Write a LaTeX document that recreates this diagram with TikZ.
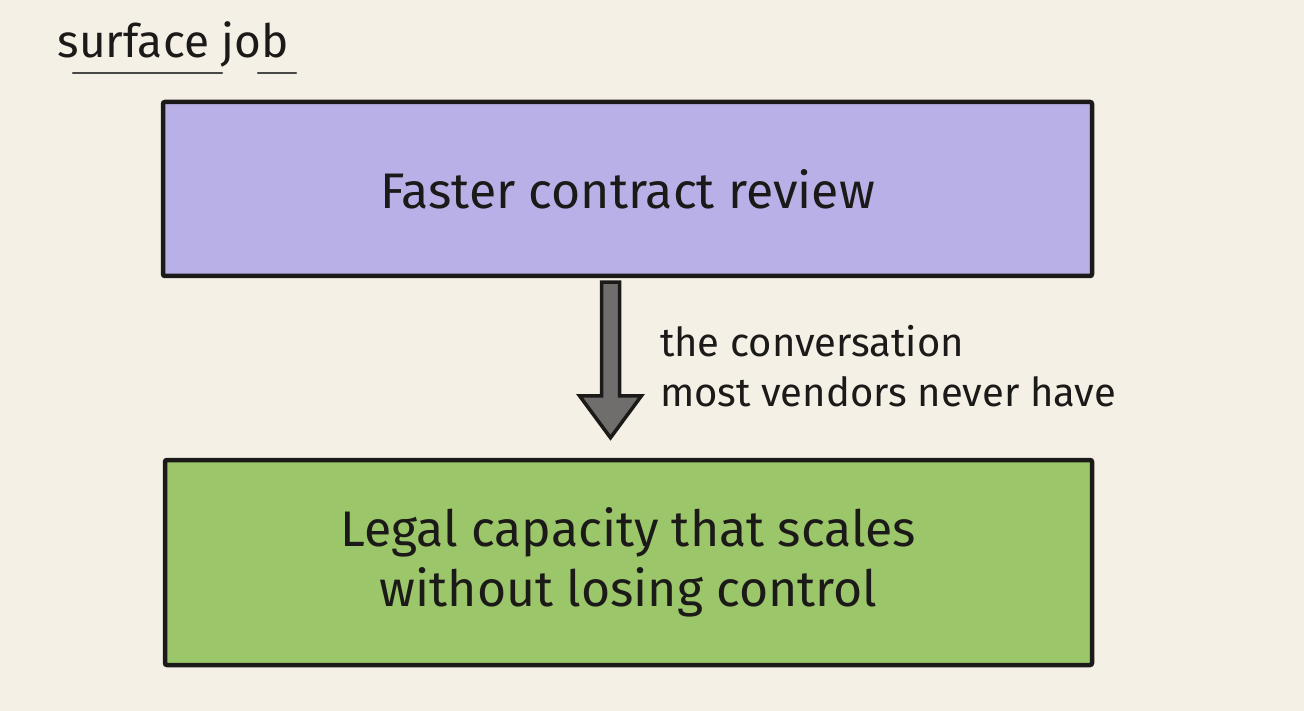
\documentclass[tikz,border=0pt]{standalone}
\usepackage{fontspec}
\setmainfont{Fira Sans}
\usetikzlibrary{positioning,calc}
\definecolor{paper}{RGB}{244,240,230}
\definecolor{ink}{RGB}{28,26,24}
\definecolor{lavender}{RGB}{186,176,232}
\definecolor{leaf}{RGB}{156,198,106}
\definecolor{arrowgrey}{RGB}{112,110,108}
\begin{document}
\begin{tikzpicture}[x=1pt, y=-1pt,
		box/.style={draw=ink, line width=4.5pt, rounded corners=2pt, align=center, text=ink, inner sep=0pt},
		blockarrow/.style={draw=ink, line width=3.5pt, fill=arrowgrey, line join=miter}]
		% Paper
		\fill[paper] (0,0) rectangle (1304,711);
		\useasboundingbox (0,0) rectangle (1304,711);
		
		% Title
		\node[anchor=west, text=ink, font=\fontsize{46}{50}\selectfont] (title) at (54,44) {surface job};
		\draw[ink!80, line width=2.5pt, line cap=round] (73,73) -- (222,73);
		\draw[ink!80, line width=2.5pt, line cap=round] (258,73) -- (296,73);
		
		% Boxes
		\node[box, fill=lavender, minimum width=929pt, minimum height=174pt,
			font=\fontsize{50}{60}\selectfont] (review) at (627.5,189) {Faster contract review};
		\node[box, fill=leaf, minimum width=927pt, minimum height=205pt,
			font=\fontsize{50}{60}\selectfont] (capacity) at (628.5,562.5) {Legal capacity that scales\\without losing control};
		
		% Arrow
		\coordinate (tail) at ([xshift=-17pt,yshift=-4pt]review.south);
		\coordinate (tip) at ([xshift=-18pt,yshift=20pt]capacity.north);
		\draw[blockarrow] ($(tail)+(-9,0)$) -- ($(tail)+(9,0)$) -- ($(tip)+(9,-42)$) -- ($(tip)+(31,-42)$)
			-- (tip) -- ($(tip)+(-31,-42)$) -- ($(tip)+(-9,-42)$) -- cycle;
		\node[anchor=west, align=left, text=ink, font=\fontsize{40}{50}\selectfont] (note)
			at ([xshift=46pt,yshift=-6pt]$(tail)!0.5!(tip)$) {the conversation\\most vendors never have};
	\end{tikzpicture}
\end{document}
